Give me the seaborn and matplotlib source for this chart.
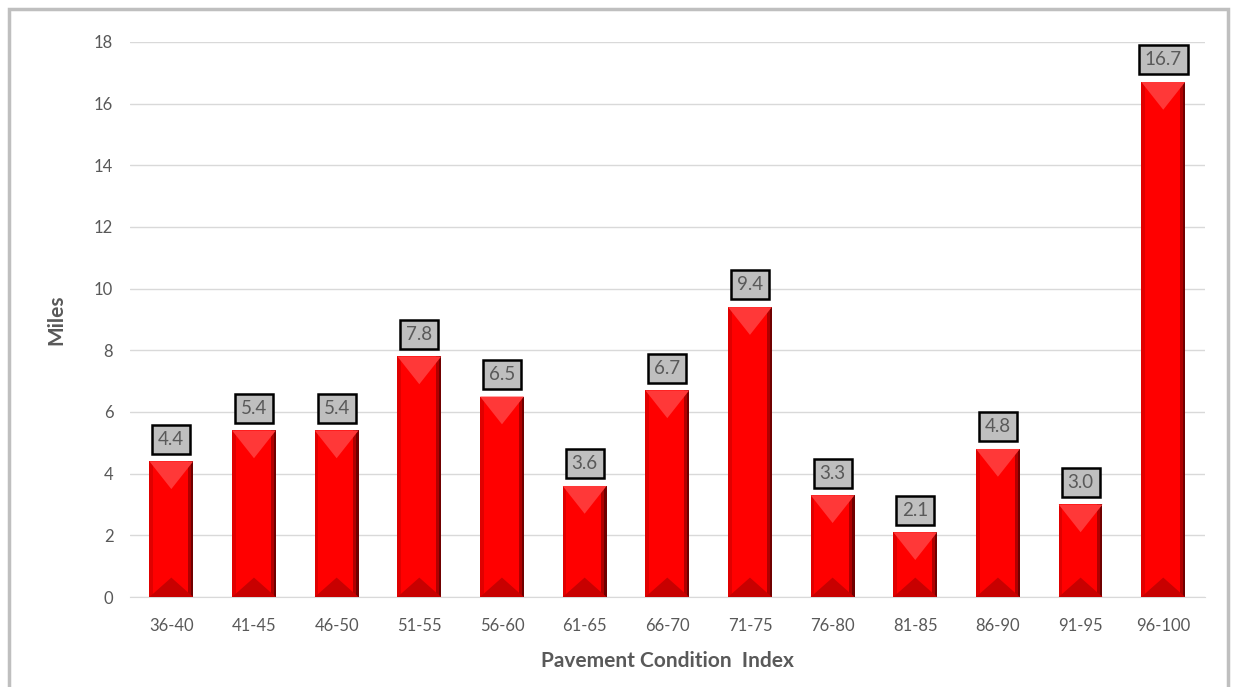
import matplotlib
matplotlib.use("Agg")
import matplotlib.pyplot as plt
import seaborn as sns
import pandas as pd
from matplotlib.patches import Polygon, Rectangle

categories = ["36-40", "41-45", "46-50", "51-55", "56-60", "61-65", "66-70",
              "71-75", "76-80", "81-85", "86-90", "91-95", "96-100"]
miles = [4.4, 5.4, 5.4, 7.8, 6.5, 3.6, 6.7, 9.4, 3.3, 2.1, 4.8, 3.0, 16.7]

df = pd.DataFrame({"PCI": categories, "Miles": miles})

sns.set_style("white")
plt.rcParams["font.family"] = ["Lato", "DejaVu Sans"]

fig = plt.figure(figsize=(12.38, 6.87), dpi=100)
ax = fig.add_axes([0.105, 0.131, 0.868, 0.808])

sns.barplot(data=df, x="PCI", y="Miles", color="#ff0000", width=0.53,
            saturation=1, ax=ax, zorder=2)

# bevel effect on each bar
for p in ax.patches:
    x0, w, h = p.get_x(), p.get_width(), p.get_height()
    x1 = x0 + w
    xm = x0 + w / 2
    p.set_edgecolor("none")
    tri = min(0.9, h * 0.45)
    # right dark strip
    ax.add_patch(Rectangle((x1 - w * 0.12, 0), w * 0.12, h, color="#b00000", zorder=3, lw=0))
    ax.add_patch(Rectangle((x1 - w * 0.05, 0), w * 0.05, h, color="#700000", zorder=3, lw=0))
    # left subtle strip
    ax.add_patch(Rectangle((x0, 0), w * 0.08, h, color="#e00000", zorder=3, lw=0))
    # top triangle (lighter)
    ax.add_patch(Polygon([(x0, h), (x1, h), (xm, h - tri)], closed=True,
                         color="#ff3838", zorder=4, lw=0))
    # bottom triangle (darker)
    ax.add_patch(Polygon([(x0, 0), (x1, 0), (xm, tri * 0.7)], closed=True,
                         color="#c80000", zorder=4, lw=0))
    # value label box
    ax.annotate(f"{h:.1f}", (xm, h), xytext=(0, 16), textcoords="offset points",
                ha="center", va="center", fontsize=13.5, color="#595959",
                bbox=dict(boxstyle="square,pad=0.32", fc="#bfbfbf", ec="black", lw=1.8),
                zorder=6)

ax.set_ylim(0, 18)
ax.set_yticks(range(0, 19, 2))
ax.set_xlim(-0.5, len(categories) - 0.5)
ax.yaxis.grid(True, color="#d9d9d9", lw=1, zorder=0)
ax.set_axisbelow(True)
for s in ["top", "right", "left"]:
    ax.spines[s].set_visible(False)
ax.spines["bottom"].set_color("#d9d9d9")
ax.tick_params(axis="both", colors="#595959", labelsize=12, length=0)
ax.tick_params(axis="x", pad=15)
ax.tick_params(axis="y", pad=12)
ax.set_xlabel("Pavement Condition  Index", fontsize=15, fontweight="bold",
              color="#595959", labelpad=12)
ax.set_ylabel("Miles", fontsize=15, fontweight="bold", color="#595959", labelpad=20)

# outer frame
fig.patches.append(Rectangle((0.007, -0.02), 0.985, 1.007, transform=fig.transFigure,
                             fill=False, ec="#bfbfbf", lw=2.5))

fig.savefig("out.png", dpi=100)
